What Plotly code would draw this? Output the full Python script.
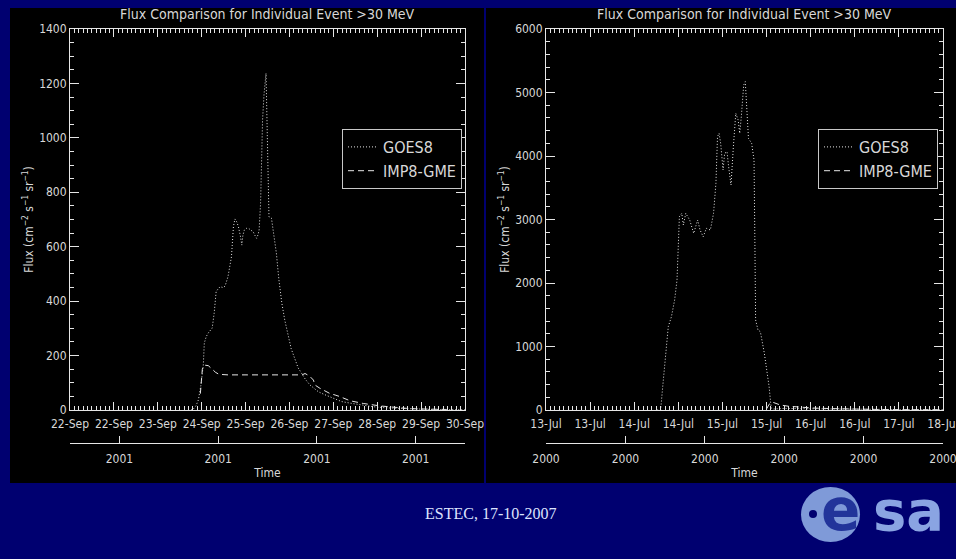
import plotly.graph_objects as go

W, H = 956, 559
NAVY = "#000070"
FG = "#d8d8d8"
LINE = "#e6e6e6"
FONT = "Liberation Sans Narrow, DejaVu Sans Condensed, Arial Narrow, sans-serif"

# ---------------- data: left panel (Sep 2001, day of month) ----------------
goes_sep_day = [24.45, 24.49, 24.55, 24.60, 24.65, 24.67, 24.70, 24.72, 24.76, 24.80,
                24.85, 24.88, 24.92, 24.96, 25.00, 25.04, 25.10, 25.14, 25.20, 25.24,
                25.27, 25.31, 25.34, 25.38, 25.41, 25.45, 25.48, 25.50, 25.53, 25.58,
                25.62, 25.67, 25.71, 25.75, 25.78, 25.81, 25.83, 25.86, 25.88, 25.90,
                25.93, 25.95, 25.97, 25.98, 25.99, 26.01, 26.03, 26.08, 26.13, 26.18,
                26.23, 26.29, 26.35, 26.42, 26.48, 26.55, 26.62, 26.69, 26.77, 26.86,
                26.95, 27.03, 27.15, 27.26, 27.38, 27.50, 27.65, 27.80, 27.97, 28.14,
                28.40, 28.61, 28.85, 29.09, 29.30, 29.50, 29.75, 30.00]
goes_sep_flux = [0, 2, 15, 37, 90, 120, 165, 246, 270, 283,
                 295, 301, 356, 435, 445, 453, 450, 455, 490, 530,
                 563, 674, 702, 690, 674, 640, 606, 640, 661, 668,
                 667, 660, 655, 640, 631, 645, 661, 760, 900, 1066,
                 1160, 1213, 1237, 1150, 1066, 880, 710, 705, 640, 576,
                 480, 393, 330, 270, 225, 190, 155, 135, 112, 92,
                 78, 67, 57, 49, 40, 31, 26, 22, 17, 12,
                 8, 6, 4, 3, 2, 1.5, 1, 1]

imp_sep_day = [24.64, 24.68, 24.72, 24.80, 24.88, 24.95, 25.02, 25.20, 25.60, 26.00,
               26.40, 26.70, 26.76, 26.85, 26.93, 26.96, 27.06, 27.16, 27.26, 27.37,
               27.47, 27.67, 27.94, 28.28, 28.55, 28.82, 29.05, 29.29, 29.62]
imp_sep_flux = [60, 150, 165, 163, 150, 138, 131, 129, 129, 129,
                129, 129, 134, 125, 110, 92, 80, 70, 61, 55,
                49, 34, 24, 15, 10, 6, 4, 3, 2]

sep_tickvals = [22.0, 22.889, 23.778, 24.667, 25.556, 26.444, 27.333, 28.222, 29.111, 30.0]
sep_ticktext = ["22-Sep", "22-Sep", "23-Sep", "24-Sep", "25-Sep", "26-Sep",
                "27-Sep", "28-Sep", "29-Sep", "30-Sep"]
sep_year_vals = [23, 25, 27, 29]
sep_year_text = ["2001", "2001", "2001", "2001"]

# ---------------- data: right panel (Jul 2000, day of month) ----------------
goes_jul_day = [14.40, 14.444, 14.47, 14.50, 14.54, 14.58, 14.62, 14.65, 14.67, 14.68,
                14.71, 14.73, 14.76, 14.81, 14.86, 14.91, 14.94, 14.98, 15.02, 15.07,
                15.11, 15.14, 15.16, 15.18, 15.20, 15.23, 15.25, 15.28, 15.30, 15.33,
                15.36, 15.39, 15.42, 15.44, 15.46, 15.49, 15.51, 15.53, 15.55, 15.59,
                15.62, 15.63, 15.64, 15.67, 15.70, 15.75, 15.78, 15.81, 15.83, 15.84,
                15.86, 16.00, 16.30, 16.60, 17.00, 17.50, 18.00]
goes_jul_flux = [0, 0, 367, 787, 1312, 1470, 1732, 2047, 2729, 3044,
                 3097, 2913, 3097, 2992, 2782, 2992, 2835, 2729, 2861, 2835,
                 3097, 3570, 4304, 4357, 4199, 3780, 4042, 4068, 3832, 3543,
                 4147, 4672, 4567, 4357, 4619, 5118, 5171, 4777, 4278, 4199,
                 3937, 2729, 1417, 1260, 1233, 893, 630, 367, 105, 27,
                 15, 25, 20, 15, 10, 6, 4]

imp_jul_day = [15.78, 15.81, 15.85, 15.90, 15.95, 16.05, 16.16, 16.36, 16.60, 16.79,
               17.00, 17.20, 17.60, 18.00]
imp_jul_flux = [20, 90, 125, 100, 79, 60, 47, 31, 22, 16, 11, 8, 5, 4]

jul_tickvals = [13.0, 13.556, 14.111, 14.667, 15.222, 15.778, 16.333, 16.889, 17.444, 18.0]
jul_ticktext = ["13-Jul", "13-Jul", "14-Jul", "14-Jul", "15-Jul", "15-Jul",
                "16-Jul", "16-Jul", "17-Jul", "18-Jul"]
jul_year_vals = [13, 14, 15, 16, 17, 18]
jul_year_text = ["2000"] * 6

series_names = ["GOES8", "IMP8-GME"]
title_text = "Flux Comparison for Individual Event >30 MeV"
ytitle = "Flux (cm<sup>−2</sup> s<sup>−1</sup> sr<sup>−1</sup>)"

DOT = "1px,2px"
DASH = "6px,4px"


def px(x):
    return x / W


def py(y):
    return (H - y) / H


fig = go.Figure()
fig.add_trace(go.Scatter(x=goes_sep_day, y=goes_sep_flux, name=series_names[0], mode="lines",
                         line=dict(color=LINE, width=1, dash=DOT), xaxis="x", yaxis="y",
                         legend="legend"))
fig.add_trace(go.Scatter(x=imp_sep_day, y=imp_sep_flux, name=series_names[1], mode="lines",
                         line=dict(color=LINE, width=1, dash=DASH), xaxis="x", yaxis="y",
                         legend="legend"))
fig.add_trace(go.Scatter(x=goes_jul_day, y=goes_jul_flux, name=series_names[0], mode="lines",
                         line=dict(color=LINE, width=1, dash=DOT), xaxis="x2", yaxis="y2",
                         legend="legend2"))
fig.add_trace(go.Scatter(x=imp_jul_day, y=imp_jul_flux, name=series_names[1], mode="lines",
                         line=dict(color=LINE, width=1, dash=DASH), xaxis="x2", yaxis="y2",
                         legend="legend2"))
# carriers for the year axes
fig.add_trace(go.Scatter(x=[22, 30], y=[None, None], xaxis="x3", yaxis="y", mode="lines",
                         showlegend=False, hoverinfo="skip"))
fig.add_trace(go.Scatter(x=[13, 18], y=[None, None], xaxis="x4", yaxis="y2", mode="lines",
                         showlegend=False, hoverinfo="skip"))

tickfont = dict(family=FONT, size=12, color=FG)
common_x = dict(showgrid=False, zeroline=False, showline=True, linecolor=LINE, linewidth=1,
                mirror="ticks", ticks="inside", ticklen=8, tickcolor=LINE, tickfont=tickfont,
                automargin=False, ticklabeloverflow="allow", ticklabelstandoff=3)
common_y = dict(showgrid=False, zeroline=False, showline=True, linecolor=LINE, linewidth=1,
                mirror="ticks", ticks="inside", ticklen=9, tickcolor=LINE, tickfont=tickfont,
                automargin=False,
                title=dict(text=ytitle, font=dict(family=FONT, size=12, color=FG), standoff=2))
year_x = dict(anchor="free", position=py(443), side="bottom", showgrid=False, zeroline=False,
              showline=True, linecolor=LINE, ticks="inside", ticklen=7, tickcolor=LINE,
              tickfont=tickfont, automargin=False, ticklabeloverflow="allow",
              ticklabelstandoff=5,
              title=dict(text="Time", font=dict(family=FONT, size=12, color=FG), standoff=3))

dom_l = [px(70), px(465)]
dom_r = [px(546), px(943)]
dom_y = [py(410), py(29)]

fig.update_layout(
    template="none",
    width=W, height=H, margin=dict(l=0, r=0, t=0, b=0, pad=0, autoexpand=False),
    paper_bgcolor=NAVY, plot_bgcolor="black",
    xaxis=dict(domain=dom_l, range=[22, 30], tickvals=sep_tickvals, ticktext=sep_ticktext,
               minor=dict(tick0=22, dtick=8 / 90, ticks="inside", ticklen=4, tickcolor=LINE),
               anchor="y", **common_x),
    yaxis=dict(domain=dom_y, range=[0, 1400], dtick=200, anchor="x",
               minor=dict(dtick=50, ticks="inside", ticklen=4, tickcolor=LINE), **common_y),
    xaxis2=dict(domain=dom_r, range=[13, 18], tickvals=jul_tickvals, ticktext=jul_ticktext,
                minor=dict(tick0=13, dtick=5 / 90, ticks="inside", ticklen=4, tickcolor=LINE),
                anchor="y2", **common_x),
    yaxis2=dict(domain=dom_y, range=[0, 6000], dtick=1000, anchor="x2",
                minor=dict(dtick=200, ticks="inside", ticklen=4, tickcolor=LINE), **common_y),
    xaxis3=dict(overlaying="x", range=[22, 30], tickvals=sep_year_vals, ticktext=sep_year_text,
                **year_x),
    xaxis4=dict(overlaying="x2", range=[13, 18], tickvals=jul_year_vals, ticktext=jul_year_text,
                **year_x),
    legend=dict(x=px(342), y=py(129), xanchor="left", yanchor="top", bgcolor="black",
                bordercolor="#c8c8c8", borderwidth=1, itemwidth=30,
                font=dict(family=FONT, size=16, color=FG)),
    legend2=dict(x=px(818), y=py(129), xanchor="left", yanchor="top", bgcolor="black",
                 bordercolor="#c8c8c8", borderwidth=1, itemwidth=30,
                 font=dict(family=FONT, size=16, color=FG)),
    showlegend=True,
)

shapes = [
    dict(type="rect", xref="paper", yref="paper", x0=px(10), x1=px(484), y0=py(483), y1=py(8),
         fillcolor="black", line=dict(width=0), layer="below"),
    dict(type="rect", xref="paper", yref="paper", x0=px(486), x1=1, y0=py(483), y1=py(8),
         fillcolor="black", line=dict(width=0), layer="below"),
    # esa logo disc
    dict(type="circle", xref="paper", yref="paper", x0=px(801), x1=px(860), y0=py(542), y1=py(487),
         fillcolor="#7f9ad8", line=dict(width=0)),
    dict(type="circle", xref="paper", yref="paper", x0=px(809), x1=px(817), y0=py(518), y1=py(510),
         fillcolor=NAVY, line=dict(width=0)),
]
fig.update_layout(shapes=shapes)


def ann(text, x, y, font):
    return dict(text=text, x=px(x), y=py(y), xref="paper", yref="paper", showarrow=False,
                xanchor="center", yanchor="middle", font=font)


annotations = [
    ann(title_text, 267.5, 14, dict(family=FONT, size=14, color=FG)),
    ann(title_text, 744.5, 14, dict(family=FONT, size=14, color=FG)),
    ann("ESTEC, 17-10-2007", 491, 513,
        dict(family="Liberation Serif, Times New Roman, serif", size=16, color="#dde4ff")),
    ann("e", 840, 510, dict(family="DejaVu Sans", size=58, color="#22349a", weight="bold")),
    ann("sa", 908, 510, dict(family="DejaVu Sans", size=56, color="#8aa4e2", weight="bold")),
]
fig.update_layout(annotations=annotations)

fig.write_html("out.html", post_script="document.body.style.margin='0px';",
               config={"displayModeBar": False})
